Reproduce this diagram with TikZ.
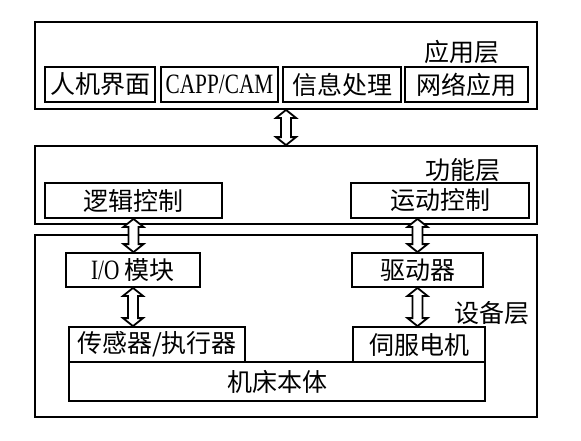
\documentclass[tikz,border=0pt]{standalone}
\usepackage{fontspec}
\setmainfont{Noto Sans CJK SC}
\newfontfamily\latinfont[FakeStretch=0.76]{Liberation Serif}
\usetikzlibrary{calc}

\newcommand{\dbarrow}[2]{%
  \draw[dbl] let \p1=(#1), \p2=(#2) in
    (\x1,\y1) -- (\x1+5pt,\y1-4pt) -- (\x1+2.5pt,\y1-4pt) -- (\x1+2.5pt,\y2+4pt)
    -- (\x1+5pt,\y2+4pt) -- (\x1,\y2) -- (\x1-5pt,\y2+4pt) -- (\x1-2.5pt,\y2+4pt)
    -- (\x1-2.5pt,\y1-4pt) -- (\x1-5pt,\y1-4pt) -- cycle;}

\begin{document}
\begin{tikzpicture}[
  x=0.5pt, y=-0.5pt,
  every node/.style={font=\fontsize{12.5}{14}\selectfont},
  layer/.style={draw, line width=0.9pt, minimum width=251pt, inner sep=0pt},
  unit/.style={draw, line width=0.9pt, minimum height=17.5pt, inner sep=0pt, align=center},
  tag/.style={inner sep=0pt},
  latin/.style={font=\fontsize{14}{15}\latinfont},
  dbl/.style={draw, line width=0.9pt, fill=white, line join=miter},
]
  \useasboundingbox (0,0) rectangle (581,440);

  \node[layer, minimum height=43.5pt] (app) at (286,65.5) {};
  \node[layer, minimum height=39pt] (func) at (286,185) {};
  \node[layer, minimum height=91pt] (dev) at (286,326) {};

  \node[tag] (applbl) at (462,52) {应用层};
  \node[tag] (funclbl) at (463,170) {功能层};
  \node[tag] (devlbl) at (492,313) {设备层};

  \node[unit, minimum width=55pt] (hmi) at (100,84.5) {人机界面};
  \node[unit, latin, minimum width=58.5pt] (capp) at (219.5,84.5) {CAPP/CAM};
  \node[unit, minimum width=59pt] (info) at (342,84.5) {信息处理};
  \node[unit, minimum width=61.5pt] (net) at (466.5,84.5) {网络应用};

  \node[unit, minimum width=88.5pt] (logic) at (133.5,200.5) {逻辑控制};
  \node[unit, minimum width=89pt] (motion) at (440,200.5) {运动控制};

  \node[unit, minimum width=67pt, minimum height=17pt] (io) at (133,270) {{\fontsize{14}{15}\latinfont I/O} 模块};
  \node[unit, minimum width=65.5pt, minimum height=17pt] (drive) at (417.5,270) {驱动器};

  \node[unit, minimum width=88pt] (sensor) at (157,344.5) {传感器/执行器};
  \node[unit, minimum width=66pt] (servo) at (419,344.5) {伺服电机};
  \node[unit, minimum width=208pt, minimum height=19.5pt] (base) at (277,381.5) {机床本体};

  \dbarrow{app.south}{func.north}
  \dbarrow{logic.south}{io.north}
  \dbarrow{drive.north |- motion.south}{drive.north}
  \dbarrow{io.south}{sensor.north}
  \dbarrow{drive.south}{servo.north}
\end{tikzpicture}
\end{document}
